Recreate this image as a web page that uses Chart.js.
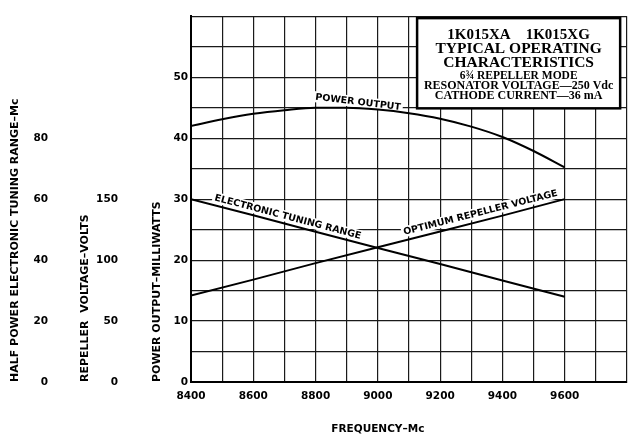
<!DOCTYPE html>
<html><head><meta charset="utf-8">
<script src="https://cdn.jsdelivr.net/npm/chart.js@4"></script>
<style>html,body{margin:0;padding:0;background:#fff}#wrap{width:638px;height:437px;position:relative}</style>
</head><body><div id="wrap"><canvas id="c" width="638" height="437"></canvas></div>
<script>
// ---- data ----
const powerFreq = [8400, 8500, 8600, 8700, 8800, 8900, 9000, 9100, 9200, 9300, 9400, 9500, 9600];
const powerOutput = [42, 43.1, 44, 44.6, 45, 45, 44.7, 44.1, 43.2, 41.9, 40.2, 37.9, 35.2]; // mW
const lineFreq = [8400, 8600, 8800, 9000, 9200, 9400, 9600];
const tuningRange = [60, 54.7, 49.3, 44, 38.7, 33.3, 28];            // Mc
const repellerVoltage = [71, 84, 97.5, 110.5, 123.5, 136.5, 150];   // volts
const freqTicks = [8400, 8600, 8800, 9000, 9200, 9400, 9600];
const powerTicks = [0, 10, 20, 30, 40, 50];
const voltTicks = [0, 50, 100, 150];
const tuneTicks = [0, 20, 40, 60, 80];
const boxLines = ['1K015XA    1K015XG', 'TYPICAL OPERATING', 'CHARACTERISTICS', '6¾ REPELLER MODE', 'RESONATOR VOLTAGE—250 Vdc', 'CATHODE CURRENT—36 mA'];

const pts = (xs, ys) => xs.map((x, i) => ({x, y: ys[i]}));
const TICK_FONT = {family: 'DejaVu Sans', weight: 'bold', size: 10.5};
const TITLE_FONT = {family: 'DejaVu Sans', weight: 'bold', size: 11};
const GRID = {color: '#1a1a1a', lineWidth: 1.2, drawTicks: false};

const annot = {
  id: 'annot',
  beforeDatasetsDraw(chart) {
    const ctx = chart.ctx;
    const lab = (ds, freq, text, offset, extra) => {
      const p = chart.getDatasetMeta(ds).data;
      const x = chart.scales.x.getPixelForValue(freq);
      let i = 0;
      while (i < p.length - 2 && p[i + 1].x < x) i++;
      const t = (x - p[i].x) / (p[i + 1].x - p[i].x);
      const y = p[i].y + t * (p[i + 1].y - p[i].y);
      const ang = Math.atan2(p[i + 1].y - p[i].y, p[i + 1].x - p[i].x) + (extra || 0);
      ctx.save();
      ctx.translate(x, y); ctx.rotate(ang); ctx.translate(0, -offset);
      ctx.font = 'bold 9.5px "DejaVu Sans"';
      ctx.textAlign = 'center'; ctx.textBaseline = 'middle';
      const w = ctx.measureText(text).width;
      ctx.fillStyle = '#fff'; ctx.fillRect(-w / 2 - 2, -6, w + 4, 11);
      ctx.fillStyle = '#000'; ctx.fillText(text, 0, 0);
      ctx.restore();
    };
    lab(0, 8934, 'POWER OUTPUT', 6, 0.06);
    lab(1, 8705, 'ELECTRONIC TUNING RANGE', 7);
    lab(2, 9336, 'OPTIMUM REPELLER VOLTAGE', 8);
  },
  afterDatasetsDraw(chart) {
    const ctx = chart.ctx, sx = chart.scales.x, sy = chart.scales.yP;
    const l = sx.getPixelForValue(9126), r = sx.getPixelForValue(9778);
    const t = sy.getPixelForValue(59.7), b = sy.getPixelForValue(44.9);
    ctx.save();
    ctx.fillStyle = '#fff'; ctx.fillRect(l, t, r - l, b - t);
    ctx.strokeStyle = '#000'; ctx.lineWidth = 2.5; ctx.strokeRect(l, t, r - l, b - t);
    ctx.fillStyle = '#000'; ctx.textAlign = 'center'; ctx.textBaseline = 'middle';
    const cx = (l + r) / 2;
    const specs = [[15, 17], [15.5, 30.5], [15.5, 45], [11.5, 57.5], [12, 67.5], [12, 78]];
    boxLines.forEach((s, i) => {
      ctx.font = 'bold ' + specs[i][0] + 'px "Liberation Serif"';
      ctx.fillText(s, cx, t + specs[i][1]);
    });
    ctx.restore();
  },
  afterDraw(chart) {
    const ctx = chart.ctx;
    ctx.save();
    ctx.font = 'bold 10.5px "DejaVu Sans"';
    ctx.fillStyle = '#000'; ctx.textAlign = 'center'; ctx.textBaseline = 'middle';
    ctx.fillText('FREQUENCY–Mc', chart.scales.x.getPixelForValue(9000), chart.chartArea.bottom + 47);
    ctx.restore();
  }
};

new Chart(document.getElementById('c'), {
  type: 'line',
  data: {
    datasets: [
      {data: pts(powerFreq, powerOutput), yAxisID: 'yP', borderColor: '#000', borderWidth: 2, pointRadius: 0, cubicInterpolationMode: 'monotone', fill: false},
      {data: pts(lineFreq, tuningRange), yAxisID: 'yT', borderColor: '#000', borderWidth: 2, pointRadius: 0, tension: 0, fill: false},
      {data: pts(lineFreq, repellerVoltage), yAxisID: 'yV', borderColor: '#000', borderWidth: 2, pointRadius: 0, tension: 0, fill: false}
    ]
  },
  options: {
    responsive: false, animation: false, devicePixelRatio: 1,
    layout: {padding: {left: 0, right: 11, top: 13, bottom: 0}},
    plugins: {legend: {display: false}, tooltip: {enabled: false}},
    scales: {
      x: {
        type: 'linear', position: 'bottom', min: 8400, max: 9800,
        ticks: {stepSize: 100, autoSkip: false, maxRotation: 0, color: '#000', font: TICK_FONT, padding: 8,
          callback: v => freqTicks.includes(v) ? String(v) : ''},
        grid: GRID, border: {color: '#000', width: 2},
        afterFit: s => { s.height = 55; }
      },
      yP: {
        position: 'left', weight: 0, min: 0, max: 60,
        ticks: {stepSize: 5, autoSkip: false, color: '#000', font: TICK_FONT, padding: 3,
          callback: v => powerTicks.includes(v) ? String(v) : ''},
        grid: GRID, border: {color: '#000', width: 2},
        title: {display: true, text: 'POWER OUTPUT–MILLIWATTS', align: 'start', color: '#000', font: TITLE_FONT, padding: {top: 26, bottom: 0}},
        afterFit: s => { s.width = 66; }
      },
      yV: {
        position: 'left', weight: 1, min: 0, max: 300,
        ticks: {stepSize: 50, autoSkip: false, color: '#000', font: TICK_FONT, padding: 7,
          callback: v => voltTicks.includes(v) ? String(v) : ''},
        grid: {display: false, drawTicks: false}, border: {display: false},
        title: {display: true, text: 'REPELLER  VOLTAGE–VOLTS', align: 'start', color: '#000', font: TITLE_FONT, padding: {top: 21, bottom: 0}},
        afterFit: s => { s.width = 67; }
      },
      yT: {
        position: 'left', weight: 2, min: 0, max: 120,
        ticks: {stepSize: 20, autoSkip: false, color: '#000', font: TICK_FONT, padding: 10,
          callback: v => tuneTicks.includes(v) ? String(v) : ''},
        grid: {display: false, drawTicks: false}, border: {display: false},
        title: {display: true, text: 'HALF POWER ELECTRONIC TUNING RANGE–Mc', align: 'start', color: '#000', font: TITLE_FONT, padding: {top: 9, bottom: 0}},
        afterFit: s => { s.width = 58; }
      }
    }
  },
  plugins: [annot]
});
</script></body></html>
